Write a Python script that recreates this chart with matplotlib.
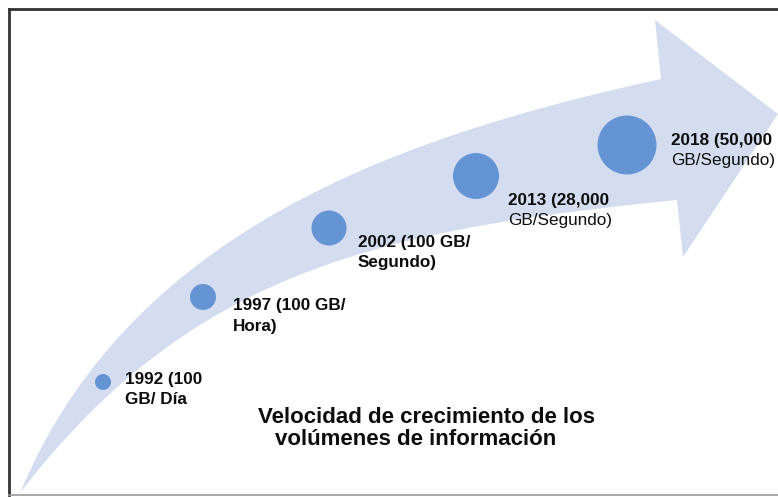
#%%
import numpy as np
import matplotlib
matplotlib.use("Agg")
import matplotlib.pyplot as plt
from matplotlib.path import Path
from matplotlib.patches import PathPatch

## DATA
years = [1992, 1997, 2002, 2013, 2018]
labels = [
	"1992 (100\nGB/ Día",
	"1997 (100 GB/\nHora)",
	"2002 (100 GB/\nSegundo)",
	"2013 (28,000\nGB/Segundo)",
	"2018 (50,000\nGB/Segundo)",
]
title_lines = ["Velocidad de crecimiento de los", "volúmenes de información"]

## LAYOUT (pixel space, y goes down)
W : int = 778
H : int = 497
dot_x = [103, 203, 329, 476, 627]
dot_y = [382, 297, 228, 176, 145]
dot_r = [8, 13, 17.5, 23, 29.5]
label_x = [125, 233, 358, 508, 671]
label_base = [384, 310, 247, 205, 145]
second_weight = ["bold", "bold", "bold", "normal", "normal"]
LINE_GAP : float = 20.5

BAND_COLOR : str = "#D4DDEF"
DOT_COLOR : str = "#6494D3"
TEXT_COLOR : str = "#0d0d0d"
FONT = ["Liberation Sans", "DejaVu Sans"]


def bezier(p0, p1, p2, p3, n=80):
	t = np.linspace(0, 1, n)[:, None]
	p0, p1, p2, p3 = map(np.array, (p0, p1, p2, p3))
	return (1-t)**3*p0 + 3*(1-t)**2*t*p1 + 3*(1-t)*t**2*p2 + t**3*p3


def arrow_path():
	# upper edge: tail -> upper notch, then head, then lower edge back to tail
	upper = bezier((20, 493), (130, 229), (401, 136), (661, 79))
	lower = bezier((20, 493), (190, 272), (377, 230), (677, 200))
	head = np.array([(655, 20), (778, 114), (683, 257)])
	verts = np.vstack([upper, head, lower[::-1]])
	codes = [Path.MOVETO] + [Path.LINETO] * (len(verts) - 2) + [Path.CLOSEPOLY]
	return Path(verts, codes)


#%%
fig = plt.figure(figsize=(W / 100, H / 100), dpi=100)
ax = fig.add_axes([0, 0, 1, 1])
ax.set_xlim(0, W)
ax.set_ylim(H, 0)
ax.axis("off")

ax.add_patch(PathPatch(arrow_path(), facecolor=BAND_COLOR, edgecolor="none", zorder=1))

## frame
ax.plot([9, 9], [8.5, 495], color="#333333", lw=2.0, zorder=3)
ax.plot([9, W], [8.5, 8.5], color="#333333", lw=2.0, zorder=3)
ax.plot([9, W], [495, 495], color="#9a9a9a", lw=1.2, zorder=3)

## dots
sizes = [(2 * r * 0.72) ** 2 for r in dot_r]
ax.scatter(dot_x, dot_y, s=sizes, color=DOT_COLOR, edgecolors="none", zorder=4)

## labels
for x, y0, lab, w2 in zip(label_x, label_base, labels, second_weight):
	for i, line in enumerate(lab.split("\n")):
		ax.text(x, y0 + i * LINE_GAP, line, fontsize=12.3,
			fontweight="bold" if i == 0 else w2,
			family=FONT, color=TEXT_COLOR, va="baseline", ha="left", zorder=5)

ax.text(258, 423, title_lines[0], fontsize=16, fontweight="bold", family=FONT,
	color=TEXT_COLOR, va="baseline", ha="left", zorder=5)
ax.text(275, 445, title_lines[1], fontsize=16, fontweight="bold", family=FONT,
	color=TEXT_COLOR, va="baseline", ha="left", zorder=5)

fig.savefig("out.png", dpi=100, facecolor="white")
